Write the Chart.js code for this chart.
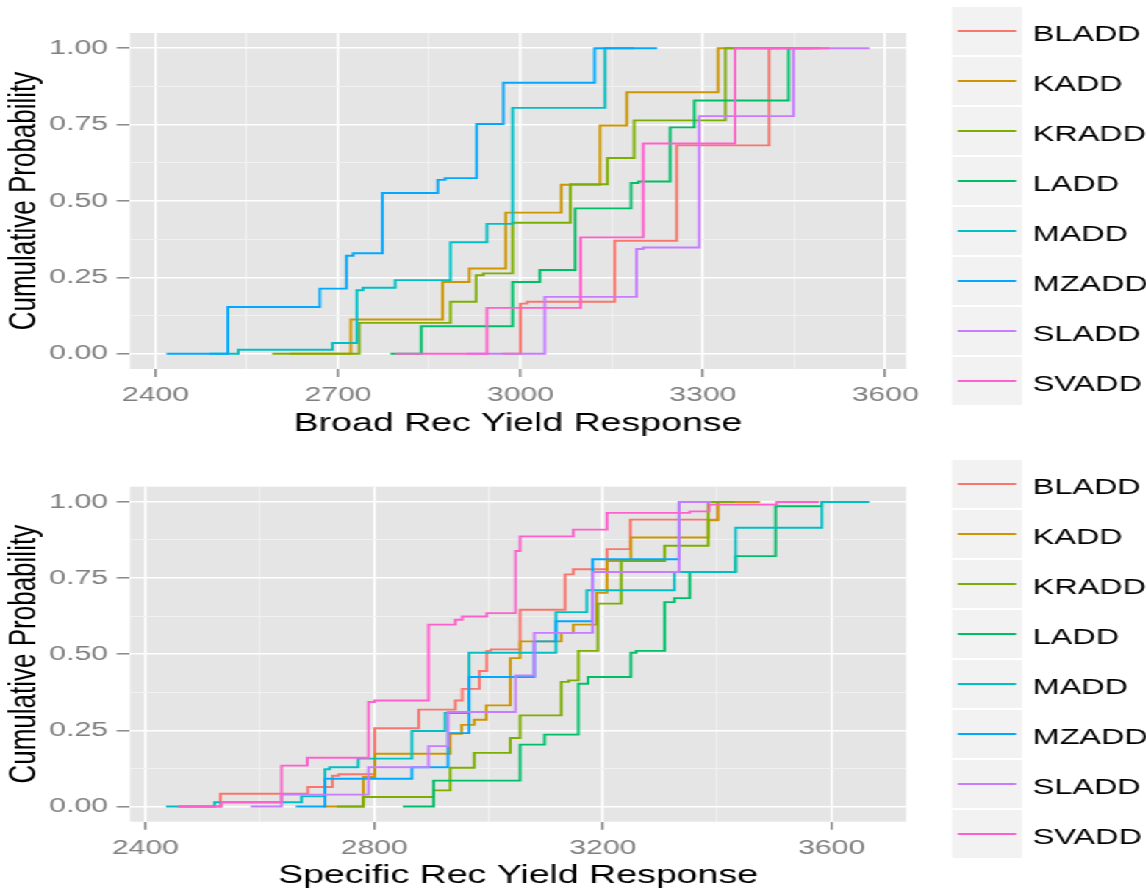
<!DOCTYPE html>
<html>
<head>
<meta charset="utf-8">
<script src="https://cdn.jsdelivr.net/npm/chart.js@4.4.1/dist/chart.umd.min.js"></script>
<style>
  html, body { margin: 0; padding: 0; background: #fff; overflow: hidden; }
  /* the reference picture is stretched sideways, so the whole drawing is too */
  #stretch { position: absolute; left: 0; top: 0; width: 780px; height: 892px; transform: scaleX(1.47); transform-origin: 0 0; }
  #stretch canvas { position: absolute; left: 0; }
  #broad-chart { top: 0; }
  #specific-chart { top: 446px; }
</style>
</head>
<body>
<div id="stretch">
  <canvas id="broad-chart" width="780" height="446"></canvas>
  <canvas id="specific-chart" width="780" height="446"></canvas>
</div>
<script>
const seriesNames = ['BLADD', 'KADD', 'KRADD', 'LADD', 'MADD', 'MZADD', 'SLADD', 'SVADD'];
const seriesColors = ['#F8766D', '#CD9600', '#7CAE00', '#00BE67', '#00BFC4', '#00A9FF', '#C77CFF', '#FF61CC'];

// Broad Rec: ECDF steps as [yield, cumulative probability]
const broadBLADD = [[2970, 0], [3000, 0.164], [3011, 0.170], [3155, 0.370], [3257, 0.682], [3409, 1], [3439, 1]];
const broadKADD = [[2621, 0], [2721, 0.112], [2872, 0.235], [2916, 0.279], [2976, 0.462], [3067, 0.553], [3131, 0.747], [3175, 0.856], [3325, 1], [3425, 1]];
const broadKRADD = [[2592, 0], [2735, 0.101], [2885, 0.170], [2927, 0.257], [2939, 0.263], [2987, 0.429], [3082, 0.555], [3143, 0.641], [3187, 0.764], [3337, 1], [3480, 1]];
const broadLADD = [[2786, 0], [2837, 0.090], [2987, 0.235], [3032, 0.274], [3090, 0.476], [3182, 0.559], [3194, 0.564], [3246, 0.741], [3286, 0.829], [3441, 1], [3492, 1]];
const broadMADD = [[2489, 0], [2536, 0.013], [2691, 0.035], [2731, 0.208], [2741, 0.216], [2794, 0.241], [2885, 0.365], [2945, 0.425], [2987, 0.805], [3139, 1], [3186, 1]];
const broadMZADD = [[2418, 0], [2519, 0.153], [2670, 0.213], [2714, 0.321], [2725, 0.329], [2773, 0.526], [2864, 0.569], [2876, 0.575], [2928, 0.752], [2972, 0.887], [3122, 1], [3225, 1]];
const broadSLADD = [[2912, 0], [3040, 0.186], [3191, 0.343], [3202, 0.348], [3294, 0.778], [3449, 1], [3574, 1]];
const broadSVADD = [[2794, 0], [2945, 0.150], [3099, 0.381], [3202, 0.688], [3353, 1], [3508, 1]];

// Specific Rec
const specificBLADD = [[2457, 0], [2531, 0.042], [2684, 0.064], [2727, 0.101], [2738, 0.106], [2801, 0.257], [2878, 0.318], [2942, 0.348], [2954, 0.386], [2984, 0.445], [2997, 0.511], [3004, 0.516], [3055, 0.646], [3134, 0.762], [3148, 0.779], [3207, 0.845], [3248, 0.942], [3401, 1], [3475, 1]];
const specificKADD = [[2711, 0], [2781, 0.097], [2801, 0.173], [2933, 0.239], [2953, 0.268], [2975, 0.285], [2996, 0.332], [3038, 0.487], [3055, 0.542], [3127, 0.570], [3148, 0.597], [3189, 0.702], [3207, 0.806], [3249, 0.883], [3384, 0.940], [3401, 1], [3471, 1]];
const specificKRADD = [[2735, 0], [2781, 0.031], [2904, 0.053], [2933, 0.127], [2975, 0.176], [3038, 0.225], [3055, 0.299], [3127, 0.409], [3140, 0.414], [3157, 0.511], [3191, 0.666], [3232, 0.806], [3308, 0.856], [3384, 1], [3431, 1]];
const specificLADD = [[2850, 0], [2904, 0.085], [3055, 0.203], [3098, 0.236], [3157, 0.403], [3174, 0.425], [3249, 0.505], [3258, 0.511], [3308, 0.671], [3325, 0.684], [3352, 0.770], [3432, 0.822], [3502, 0.986], [3583, 1], [3637, 1]];
const specificMADD = [[2436, 0], [2521, 0.014], [2673, 0.033], [2714, 0.122], [2722, 0.129], [2772, 0.157], [2866, 0.248], [2924, 0.307], [2966, 0.505], [3118, 0.638], [3172, 0.710], [3325, 0.770], [3432, 0.915], [3583, 1], [3666, 1]];
const specificMZADD = [[2663, 0], [2714, 0.091], [2866, 0.129], [2929, 0.241], [2966, 0.425], [3080, 0.542], [3118, 0.608], [3182, 0.812], [3333, 1], [3384, 1]];
const specificSLADD = [[2584, 0], [2638, 0.039], [2790, 0.129], [2895, 0.198], [2929, 0.310], [3047, 0.430], [3080, 0.570], [3182, 0.770], [3333, 1], [3389, 1]];
const specificSVADD = [[2457, 0], [2533, 0.014], [2638, 0.134], [2683, 0.160], [2790, 0.343], [2801, 0.348], [2895, 0.597], [2942, 0.613], [2954, 0.624], [2997, 0.635], [3047, 0.839], [3055, 0.887], [3148, 0.909], [3207, 0.964], [3352, 0.969], [3386, 0.991], [3504, 1], [3578, 1]];

// tick labels
const broadTicks = [2400, 2700, 3000, 3300, 3600];
const broadMinorTicks = [2550, 2850, 3150, 3450];
const specificTicks = [2400, 2800, 3200, 3600];
const specificMinorTicks = [2600, 3000, 3400];
const probTicks = [0, 0.25, 0.5, 0.75, 1];
const probMinorTicks = [0.125, 0.375, 0.625, 0.875];

const FONT = '"Liberation Sans", Arial, Helvetica, sans-serif';
Chart.defaults.font.family = FONT;

// grey panel behind the grid
const panelBackground = {
    id: 'panelBackground',
    beforeDraw(chart) {
        const { ctx, chartArea: a } = chart;
        ctx.save();
        ctx.fillStyle = '#E5E5E5';
        ctx.fillRect(a.left, a.top, a.right - a.left, a.bottom - a.top);
        ctx.restore();
    }
};

// ggplot style legend keys on the right
const keyLegend = {
    id: 'keyLegend',
    afterDraw(chart, args, opts) {
        const ctx = chart.ctx;
        ctx.save();
        chart.data.datasets.forEach((ds, i) => {
            const y = opts.top + i * 50;
            ctx.fillStyle = '#F2F2F2';
            ctx.fillRect(opts.left, y, 47.6, 48);
            ctx.strokeStyle = ds.borderColor;
            ctx.lineWidth = 1.9;
            ctx.beginPath();
            ctx.moveTo(opts.left + 4, y + 24);
            ctx.lineTo(opts.left + 43.6, y + 24);
            ctx.stroke();
            ctx.fillStyle = '#000';
            ctx.font = '22px ' + FONT;
            ctx.textBaseline = 'middle';
            ctx.textAlign = 'left';
            ctx.fillText(ds.label, opts.left + 55, y + 27.5);
        });
        ctx.restore();
    }
};

function ecdfDatasets(seriesList) {
    return seriesList.map((points, i) => ({
        label: seriesNames[i],
        data: points.map(([x, y]) => ({ x: x, y: y })),
        borderColor: seriesColors[i],
        backgroundColor: seriesColors[i],
        borderWidth: 1.9,
        pointRadius: 0,
        stepped: true,
        fill: false,
        order: seriesList.length - i
    }));
}

function isMajor(ctx, major) {
    return ctx.tick && major.includes(ctx.tick.value);
}

function gridFor(major, tickLength) {
    return {
        color: c => isMajor(c, major) ? '#FFFFFF' : '#F2F2F2',
        lineWidth: c => isMajor(c, major) ? 1.6 : 0.9,
        tickColor: c => isMajor(c, major) ? '#7F7F7F' : 'rgba(0,0,0,0)',
        tickLength: tickLength,
        tickWidth: 1.4
    };
}

function makeChart(canvasId, seriesList, cfg) {
    const ctx = document.getElementById(canvasId).getContext('2d');
    return new Chart(ctx, {
        type: 'line',
        data: { datasets: ecdfDatasets(seriesList) },
        options: {
            responsive: false,
            animation: false,
            devicePixelRatio: 1,
            layout: { padding: { top: cfg.top, right: 163.67, bottom: 0, left: 0 } },
            plugins: {
                legend: { display: false },
                tooltip: { enabled: false },
                keyLegend: { left: 647.6, top: cfg.legendTop }
            },
            scales: {
                x: {
                    type: 'linear',
                    min: cfg.xMin,
                    max: cfg.xMax,
                    afterBuildTicks: s => {
                        s.ticks = cfg.xTicks.concat(cfg.xMinor).sort((a, b) => a - b).map(v => ({ value: v }));
                    },
                    afterFit: s => { s.height = cfg.xHeight; },
                    ticks: {
                        autoSkip: false,
                        maxRotation: 0,
                        padding: 6,
                        color: '#7F7F7F',
                        font: { size: 20.5 },
                        callback: v => cfg.xTicks.includes(v) ? String(v) : ''
                    },
                    grid: gridFor(cfg.xTicks, 8),
                    border: { display: false },
                    title: {
                        display: true,
                        text: cfg.xTitle,
                        color: '#000',
                        font: { size: 25.5, lineHeight: 1 },
                        padding: { top: 0, bottom: cfg.titlePad }
                    }
                },
                y: {
                    type: 'linear',
                    min: -0.05,
                    max: 1.05,
                    afterBuildTicks: s => {
                        s.ticks = probTicks.concat(probMinorTicks).sort((a, b) => a - b).map(v => ({ value: v }));
                    },
                    afterFit: s => { s.width = 88.44; },
                    ticks: {
                        padding: 6,
                        color: '#7F7F7F',
                        font: { size: 20.5 },
                        callback: v => probTicks.includes(v) ? v.toFixed(2) : ''
                    },
                    grid: gridFor(probTicks, 9),
                    border: { display: false },
                    title: {
                        display: true,
                        text: 'Cumulative Probability',
                        color: '#000',
                        font: { size: 26, lineHeight: 1 },
                        padding: { top: 4, bottom: 0 }
                    }
                }
            }
        },
        plugins: [panelBackground, keyLegend]
    });
}

makeChart('broad-chart',
    [broadBLADD, broadKADD, broadKRADD, broadLADD, broadMADD, broadMZADD, broadSLADD, broadSVADD],
    {
        top: 33, xHeight: 77, titlePad: 9.7, legendTop: 7,
        xMin: 2358, xMax: 3634, xTicks: broadTicks, xMinor: broadMinorTicks,
        xTitle: 'Broad Rec Yield Response'
    });

makeChart('specific-chart',
    [specificBLADD, specificKADD, specificKRADD, specificLADD, specificMADD, specificMZADD, specificSLADD, specificSVADD],
    {
        top: 40.7, xHeight: 70.3, titlePad: 3.2, legendTop: 14,
        xMin: 2373, xMax: 3730, xTicks: specificTicks, xMinor: specificMinorTicks,
        xTitle: 'Specific Rec Yield Response'
    });
</script>
</body>
</html>
